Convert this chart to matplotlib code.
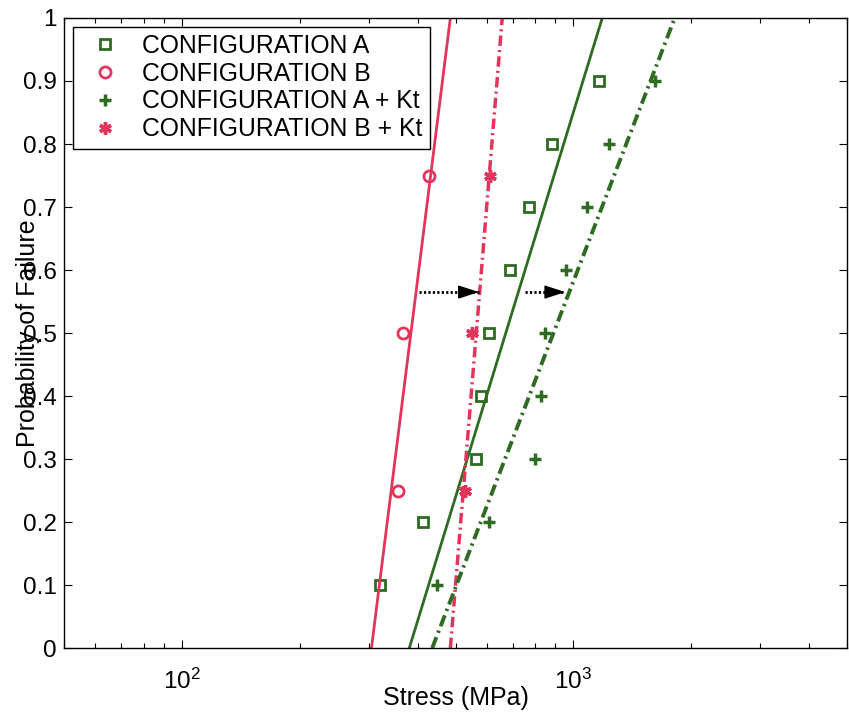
import numpy as np
import matplotlib
matplotlib.use('Agg')
import matplotlib.pyplot as plt

plt.rcParams['font.family'] = ['Liberation Sans', 'DejaVu Sans']
plt.rcParams['mathtext.fontset'] = 'custom'
plt.rcParams['mathtext.rm'] = 'Liberation Sans'
plt.rcParams['mathtext.it'] = 'Liberation Sans:italic'

# measured failure stresses (MPa) and their probability ranks
prob_a = [0.1, 0.2, 0.3, 0.4, 0.5, 0.6, 0.7, 0.8, 0.9]
stress_a = [320, 414, 565, 582, 610, 690, 772, 883, 1163]
stress_a_kt = [449, 609, 798, 827, 847, 957, 1083, 1233, 1615]

prob_b = [0.25, 0.5, 0.75]
stress_b = [357, 367, 429]
stress_b_kt = [530, 550, 612]

# fitted lines: stress at P = 0 and at P = 1
fit_p = [0, 1]
fit_a = [381, 1185]
fit_b = [305, 485]
fit_a_kt = [436, 1815]
fit_b_kt = [485, 658]

# shift arrows (start, tip) at the same probability level
arrow_p = 0.565
arrow_b = [404, 574]
arrow_a = [751, 954]

red = '#e3345c'
green = '#2f6b22'

fig = plt.figure(figsize=(8.49, 7.17), dpi=100)
ax = fig.add_axes([0.0754, 0.0962, 0.9223, 0.8787])

ax.plot(stress_a, prob_a, 's', mfc='none', mec=green, mew=2, ms=7, label='CONFIGURATION A')
ax.plot(stress_b, prob_b, 'o', mfc='none', mec=red, mew=2, ms=8, label='CONFIGURATION B')
ax.plot(stress_a_kt, prob_a, '+', color=green, mew=2.5, ms=9, label='CONFIGURATION A + Kt')
ax.plot(stress_b_kt, prob_b, marker=(6, 2, 0), ls='none', color=red, mew=2.5, ms=9,
        label='CONFIGURATION B + Kt')

ax.plot(fit_b, fit_p, '-', color=red, lw=2)
ax.plot(fit_a, fit_p, '-', color=green, lw=2)
ax.plot(fit_b_kt, fit_p, color=red, lw=2.5, ls=(0, (3, 1.2, 0.6, 1.2)))
ax.plot(fit_a_kt, fit_p, color=green, lw=2.8, ls=(0, (3, 1.2, 0.6, 1.2)))

# dotted shaft plus a solid filled head
for x0, x1 in (arrow_b, arrow_a):
    ax.plot([x0, x1], [arrow_p, arrow_p], color='k', lw=2, ls=(0, (0.8, 0.8)))
    ax.annotate('', xy=(x1, arrow_p), xytext=(-13, 0), textcoords='offset points',
                arrowprops=dict(arrowstyle='-|>,head_length=1.3,head_width=0.42',
                                color='k', lw=1, mutation_scale=10,
                                shrinkA=0, shrinkB=0))

ax.set_xscale('log')
ax.set_xlim(50, 5000)
ax.set_ylim(0, 1)
ax.set_yticks(np.arange(0, 1.01, 0.1))
ax.set_yticklabels(['0', '0.1', '0.2', '0.3', '0.4', '0.5', '0.6', '0.7', '0.8', '0.9', '1'])

ax.tick_params(which='both', direction='in', top=True, right=True, labelsize=17.5)
ax.tick_params(which='major', length=6, width=0.8)
ax.tick_params(which='minor', length=3.5, width=0.8)
ax.tick_params(axis='y', pad=5)
ax.tick_params(axis='x', pad=15)
for s in ax.spines.values():
    s.set_linewidth(1)

ax.set_xlabel('Stress (MPa)', fontsize=18, labelpad=-6)
ax.set_ylabel('Probability of Failure', fontsize=18)
ax.yaxis.set_label_coords(-0.031, 0.5)

leg = ax.legend(loc='upper left', fontsize=17.8, frameon=True, fancybox=False,
                edgecolor='k', framealpha=1, borderaxespad=0.35,
                handletextpad=0.5, labelspacing=0.15, borderpad=0.3,
                handlelength=2.0)
leg.get_frame().set_linewidth(1)

plt.savefig('out.png', dpi=100)
